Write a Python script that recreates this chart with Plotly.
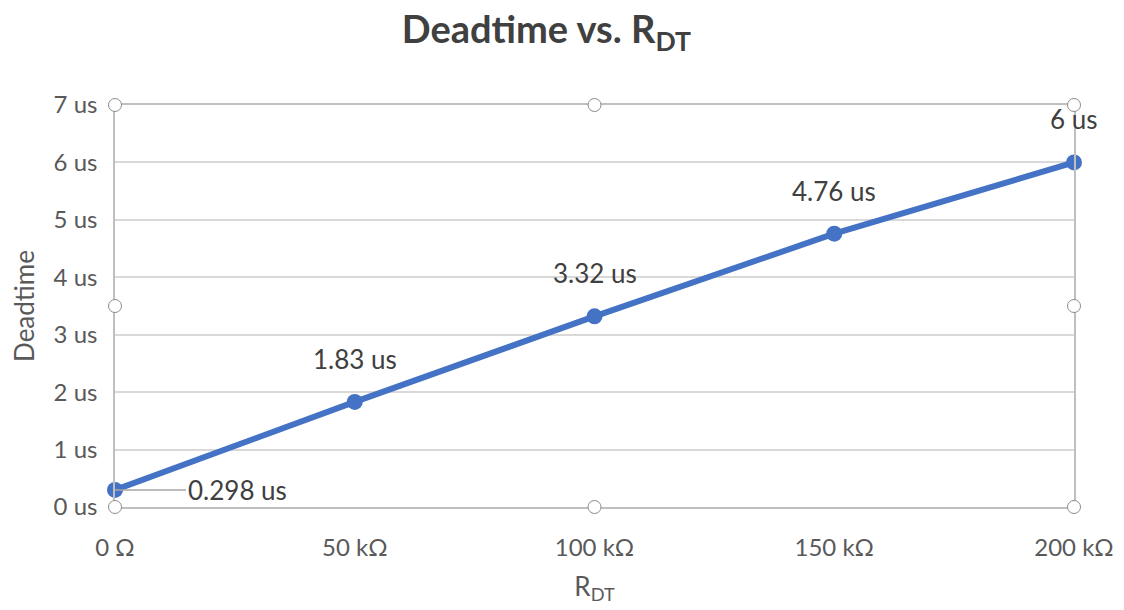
import plotly.graph_objects as go

# Data
r_dt_kohm = [0, 50, 100, 150, 200]
deadtime_us = [0.298, 1.83, 3.32, 4.76, 6]
x_tick_vals = [0, 50, 100, 150, 200]
x_tick_text = ["0 Ω", "50 kΩ", "100 kΩ", "150 kΩ", "200 kΩ"]
y_tick_vals = [0, 1, 2, 3, 4, 5, 6, 7]
y_tick_text = [f"{v} us" for v in y_tick_vals]
data_labels = ["0.298 us", "1.83 us", "3.32 us", "4.76 us", "6 us"]

FONT = "Lato"
BLUE = "#4472C4"
TICK_GREY = "#595959"
LABEL_GREY = "#404040"
FRAME = "#BFBFBF"

fig = go.Figure()
fig.add_trace(go.Scatter(
    x=r_dt_kohm, y=deadtime_us, mode="lines+markers",
    line=dict(color=BLUE, width=6),
    marker=dict(color=BLUE, size=16),
    cliponaxis=False, showlegend=False, hoverinfo="skip",
))

annotations = []
for i, (xv, yv, lab) in enumerate(zip(r_dt_kohm, deadtime_us, data_labels)):
    if i == 0:
        annotations.append(dict(
            x=xv, y=yv, text=lab, showarrow=True, arrowhead=0, arrowwidth=1.5,
            arrowcolor="#A6A6A6", ax=122, ay=0, xanchor="center",
            font=dict(family=FONT, size=26, color=LABEL_GREY), standoff=0,
        ))
    else:
        annotations.append(dict(
            x=xv, y=yv, text=lab, showarrow=False, yshift=43,
            font=dict(family=FONT, size=26, color=LABEL_GREY),
        ))

# selection handles on the plot-area frame
shapes = []
for px in (0, 0.5, 1):
    for py in (0, 0.5, 1):
        if px == 0.5 and py == 0.5:
            continue
        shapes.append(dict(
            type="circle", xref="paper", yref="paper",
            xsizemode="pixel", ysizemode="pixel",
            xanchor=px, yanchor=py, x0=-6.5, x1=6.5, y0=-6.5, y1=6.5,
            line=dict(color="#8C8C8C", width=1), fillcolor="white", layer="above",
        ))

fig.update_layout(
    width=1124, height=610,
    margin=dict(l=107, r=58, t=97, b=111),
    paper_bgcolor="white", plot_bgcolor="white",
    title=dict(text="<b>Deadtime vs. R<sub>DT</sub></b>", x=0.479, xanchor="center",
               y=0.964, yanchor="middle",
               font=dict(family=FONT, size=38, color=LABEL_GREY)),
    xaxis=dict(
        range=[0, 200], tickvals=x_tick_vals, ticktext=x_tick_text,
        showgrid=False, zeroline=False, showline=True, linecolor=FRAME,
        linewidth=1.5, mirror=True, ticks="", ticklabelstandoff=18,
        tickfont=dict(family=FONT, size=24, color=TICK_GREY),
        title=dict(text="R<sub>DT</sub>", standoff=18,
                   font=dict(family=FONT, size=26, color=TICK_GREY)),
    ),
    yaxis=dict(
        range=[0, 7], tickvals=y_tick_vals, ticktext=y_tick_text,
        showgrid=True, gridcolor="#D9D9D9", gridwidth=1.5, zeroline=False,
        showline=True, linecolor=FRAME, linewidth=1.5, mirror=True, ticks="",
        ticklabelstandoff=11,
        tickfont=dict(family=FONT, size=24, color=TICK_GREY),
        title=dict(text="Deadtime", standoff=12,
                   font=dict(family=FONT, size=26, color=TICK_GREY)),
    ),
    annotations=annotations, shapes=shapes,
)

fig.write_html("out.html")
